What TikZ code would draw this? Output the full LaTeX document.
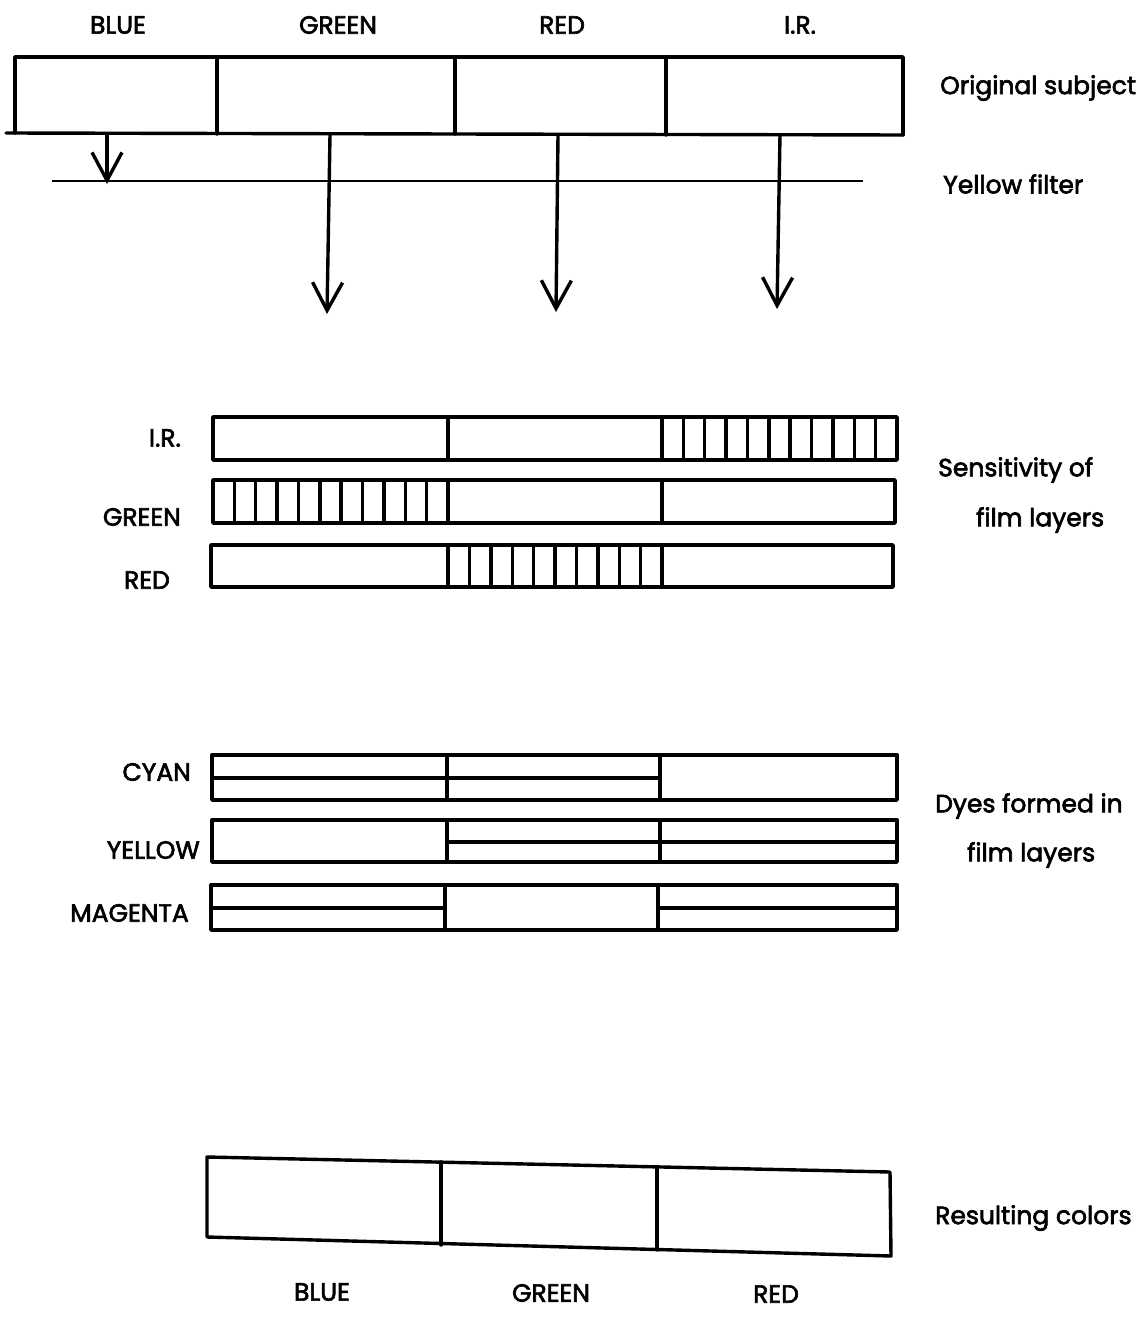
\documentclass[tikz,border=0pt]{standalone}
\usepackage{fontspec}
\setmainfont{Poppins}
\newfontfamily\lblfont{Poppins}[FakeBold=2.5]
\usetikzlibrary{arrows.meta}
\tikzset{
  ln/.style={line width=3.4pt, line cap=round, line join=round},
  thin ln/.style={line width=2.6pt},
  lbl/.style={font=\lblfont\fontsize{25}{28}\selectfont, inner sep=0pt},
  barb/.style={ln, -{Straight Barb[length=28pt,width=30pt,line width=3.4pt]}},
}
\begin{document}
\begin{tikzpicture}[x=1pt,y=-1pt]
\useasboundingbox (0,0) rectangle (1141,1317);
% ---- top labels
\node[lbl] (tb) at (118,25) {BLUE};
\node[lbl] (tg) at (338,25) {GREEN};
\node[lbl] (tr) at (562,25) {RED};
\node[lbl] (ti) at (800,25) {I.R.};
% ---- original subject
\draw[ln] (15,133) -- (15,57) -- (903,57) -- (903,135);
\draw[ln] (6,133) -- (903,135);
\draw[ln] (217,57) -- (217,134);
\draw[ln] (455,57) -- (455,134);
\draw[ln] (666,57) -- (666,135);
\node[lbl, anchor=west] (os) at (940,88) {Original subject};
% ---- yellow filter
\draw[thin ln] (52,181) -- (863,181);
\node[lbl, anchor=west] (yf) at (943,184) {Yellow filter};
% ---- arrows
\coordinate (b0) at (107,134); \coordinate (b1) at (107,184);
\coordinate (g0) at (330,135); \coordinate (g1) at (327,314);
\coordinate (r0) at (558,135); \coordinate (r1) at (556,312);
\coordinate (i0) at (780,135); \coordinate (i1) at (777,309);
\draw[barb] (b0) -- (b1);
\draw[barb] (g0) -- (g1);
\draw[barb] (r0) -- (r1);
\draw[barb] (i0) -- (i1);
% ---- sensitivity of film layers
\draw[ln] (213,417) rectangle (897,460);
\draw[ln] (448,417) -- (448,460);
\draw[ln] (662,417) -- (662,460);
\foreach \i in {1,...,10} \draw[ln] ({662+\i*235/11},417) -- ({662+\i*235/11},460);
\draw[ln] (213,480) rectangle (895,523);
\draw[ln] (448,480) -- (448,523);
\draw[ln] (662,480) -- (662,523);
\foreach \i in {1,...,10} \draw[ln] ({213+\i*235/11},480) -- ({213+\i*235/11},523);
\draw[ln] (211,545) rectangle (893,587);
\draw[ln] (448,545) -- (448,587);
\draw[ln] (662,545) -- (662,587);
\foreach \i in {1,...,9} \draw[ln] ({448+\i*214/10},545) -- ({448+\i*214/10},587);
\node[lbl, anchor=east] (lir) at (181,438) {I.R.};
\node[lbl, anchor=east] (lgr) at (181,517) {GREEN};
\node[lbl, anchor=east] (lrd) at (170,580) {RED};
\node[lbl, anchor=west] (s1) at (938,470) {Sensitivity of};
\node[lbl, anchor=west] (s2) at (976,520) {film layers};
% ---- dyes formed
\draw[ln] (212,755) rectangle (897,800);
\draw[ln] (447,755) -- (447,800);
\draw[ln] (660,755) -- (660,800);
\draw[ln] (212,778) -- (660,778);
\draw[ln] (212,820) rectangle (897,862);
\draw[ln] (447,820) -- (447,862);
\draw[ln] (660,820) -- (660,862);
\draw[ln] (447,842) -- (897,842);
\draw[ln] (211,885) rectangle (897,930);
\draw[ln] (445,885) -- (445,930);
\draw[ln] (658,885) -- (658,930);
\draw[ln] (211,908) -- (445,908);
\draw[ln] (658,908) -- (897,908);
\node[lbl, anchor=east] (lcy) at (191,772) {CYAN};
\node[lbl, anchor=east] (lye) at (200,850) {YELLOW};
\node[lbl, anchor=east] (lma) at (189,913) {MAGENTA};
\node[lbl, anchor=west] (d1) at (935,806) {Dyes formed in};
\node[lbl, anchor=west] (d2) at (967,855) {film layers};
% ---- resulting colors
\draw[ln] (207,1157) -- (890,1172) -- (891,1256) -- (207,1237) -- cycle;
\draw[ln] (441,1162) -- (441,1245);
\draw[ln] (657,1167) -- (657,1250);
\node[lbl, anchor=west] (rc) at (935,1218) {Resulting colors};
\node[lbl] (bb) at (322,1292) {BLUE};
\node[lbl] (bg) at (551,1293) {GREEN};
\node[lbl] (br) at (776,1294) {RED};
\end{tikzpicture}
\end{document}
